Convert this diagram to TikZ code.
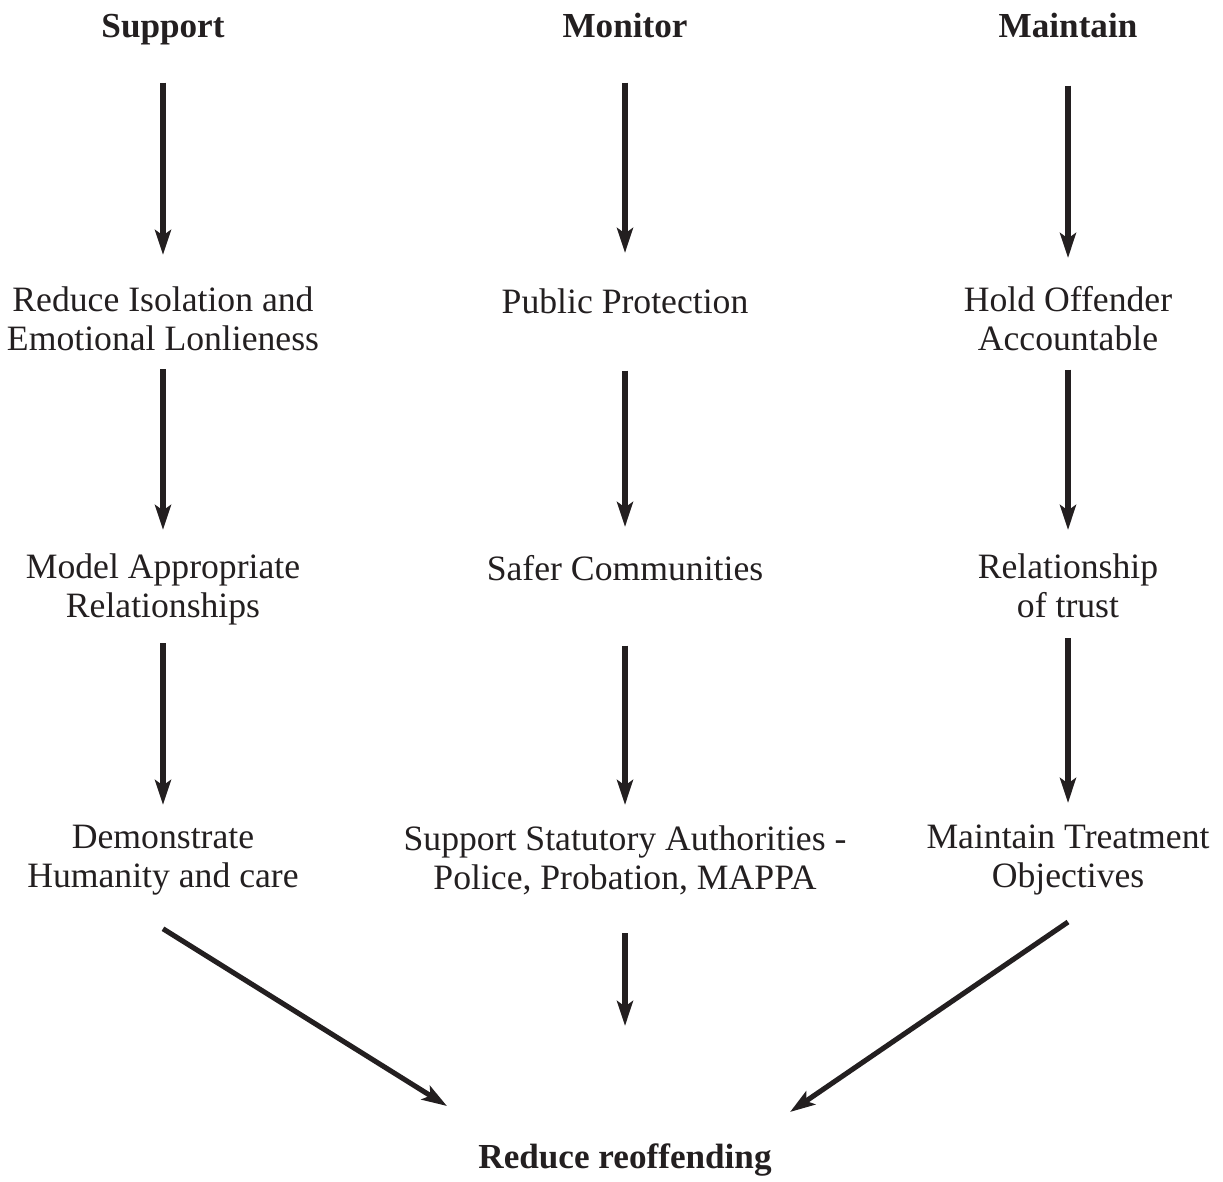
\documentclass[tikz,border=0pt]{standalone}
\usepackage{fontspec}
\setmainfont{Liberation Serif}
\usetikzlibrary{arrows.meta}
\definecolor{ink}{RGB}{35,31,32}
\tikzset{
  lbl/.style={anchor=north, inner sep=0pt, align=center, text=ink,
    font=\fontsize{20.3}{22.2}\selectfont,
    execute at begin node=\strut, execute at end node=\strut},
  hd/.style={lbl, font=\fontsize{20}{22.2}\selectfont\bfseries},
  flow/.style={draw=ink, line width=2.9pt,
    -{Stealth[length=0.5cm,width=0.32cm,inset=0.11cm]}}
}
\begin{document}
\begin{tikzpicture}[x=0.02cm,y=-0.02cm]
  \useasboundingbox (0,0) rectangle (1223,1182);
  % column heads
  \node[hd] (sup) at (163,10) {Support};
  \node[hd] (mon) at (625,10) {Monitor};
  \node[hd] (mnt) at (1068,10) {Maintain};
  % support column
  \node[lbl] (s1) at (163,286) {Reduce Isolation and\\Emotional Lonlieness};
  \node[lbl] (s2) at (163,553) {Model Appropriate\\Relationships};
  \node[lbl] (s3) at (163,825) {Demonstrate\\Humanity and care};
  % monitor column
  \node[lbl] (m1) at (625,286) {Public Protection};
  \node[lbl] (m2) at (625,553) {Safer Communities};
  \node[lbl] (m3) at (625,825) {Support Statutory Authorities -\\Police, Probation, MAPPA};
  % maintain column
  \node[lbl] (t1) at (1068,286) {Hold Offender\\Accountable};
  \node[lbl] (t2) at (1068,553) {Relationship\\of trust};
  \node[lbl] (t3) at (1068,825) {Maintain Treatment\\Objectives};
  % outcome
  \node[hd] (red) at (625,1141) {Reduce reoffending};
  \coordinate (in1) at (447,1106);
  \coordinate (in3) at (790,1112);
  \foreach \from/\to/\s/\e in {sup/s1/33/31, s1/s2/7/23, s2/s3/14/20,
    mon/m1/33/33, m1/m2/45/26, m2/m3/53/20, m3/red/32/115,
    mnt/t1/36/28, t1/t2/7/23, t2/t3/9/22}
    \draw[flow, shorten <=\s*0.02cm, shorten >=\e*0.02cm] (\from) -- (\to);
  \draw[flow] ([yshift=-0.58cm]s3.south) -- (in1);
  \draw[flow] ([yshift=-0.44cm]t3.south) -- (in3);
\end{tikzpicture}
\end{document}
